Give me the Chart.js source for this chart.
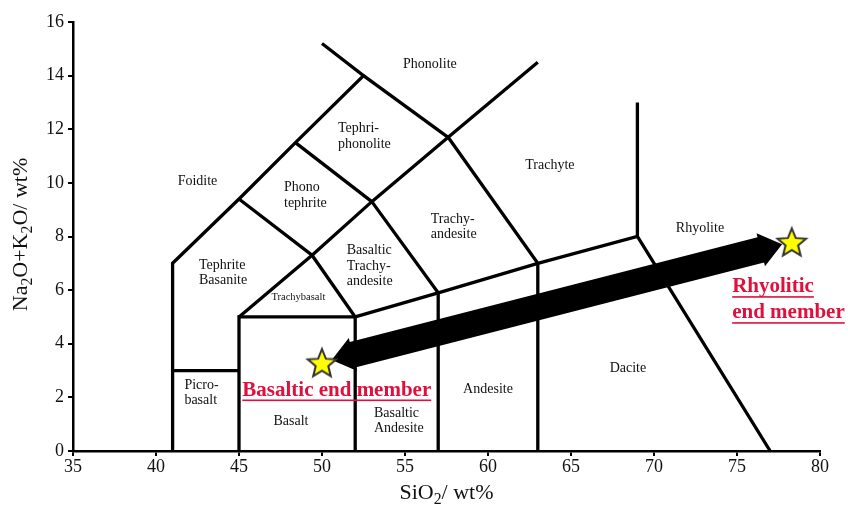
<!DOCTYPE html>
<html>
<head>
<meta charset="utf-8">
<script src="https://cdn.jsdelivr.net/npm/chart.js@4.4.1/dist/chart.umd.min.js"></script>
<style>
  html, body { margin: 0; padding: 0; background: #fff; }
  #wrap { width: 848px; height: 507px; }
</style>
</head>
<body>
<div id="wrap"><canvas id="tas"></canvas></div>
<script>
// TAS boundary polylines, [SiO2, Na2O+K2O]
const foiditeEdge = [[41, 0], [41, 7], [45, 9.4], [48.4, 11.5], [52.5, 14], [50, 15.2]];
const picroTop = [[41, 3], [45, 3]];
const basaltBox = [[45, 0], [45, 5], [52, 5], [52, 0]];
const alkalineEdge = [[45, 5], [49.4, 7.3], [53, 9.3], [57.6, 11.7], [63, 14.5]];
const subalkalineEdge = [[52, 5], [57, 5.9], [63, 7], [69, 8], [77, 0]];
const rhyoliteEdge = [[69, 8], [69, 13]];
const andesiteEdge = [[57, 0], [57, 5.9], [53, 9.3]];
const daciteEdge = [[63, 0], [63, 7], [57.6, 11.7]];
const tephriteEdge = [[52, 5], [49.4, 7.3], [45, 9.4]];
const phonotephriteEdge = [[48.4, 11.5], [53, 9.3]];
const phonoliteEdge = [[52.5, 14], [57.6, 11.7]];

const boundaries = [foiditeEdge, picroTop, basaltBox, alkalineEdge, subalkalineEdge, rhyoliteEdge,
  andesiteEdge, daciteEdge, tephriteEdge, phonotephriteEdge, phonoliteEdge];

// field names
const regionText = ["Phonolite", "Tephri-\nphonolite", "Trachyte", "Phono\ntephrite", "Foidite",
  "Trachy-\nandesite", "Basaltic\nTrachy-\nandesite", "Tephrite\nBasanite", "Trachybasalt",
  "Picro-\nbasalt", "Basalt", "Basaltic\nAndesite", "Andesite", "Dacite", "Rhyolite"];
const regionX = [56.5, 50.96, 63.73, 47.71, 42.5, 56.55, 51.49, 42.59, 48.58, 41.71, 48.13, 53.13, 60.0, 68.43, 72.77];
const regionY = [14.42, 11.74, 10.66, 9.54, 10.07, 8.36, 6.9, 6.64, 5.75, 2.17, 1.09, 1.12, 2.3, 3.08, 8.32];

// end members
const memberX = [50, 78.3];
const memberY = [3.3, 7.8];
const memberText = ["Basaltic end member", "Rhyolitic\nend member"];
const memberTextX = [50.89, 74.71];
const memberTextY = [2.27, 5.64];

const xTicks = [35, 40, 45, 50, 55, 60, 65, 70, 75, 80];
const yTicks = [0, 2, 4, 6, 8, 10, 12, 14, 16];

const SERIF = "'Liberation Serif', 'Times New Roman', serif";
const RED = "#e0103c";
const SMALL_LABELS = ["Trachybasalt"];

function makeStar(r) {
  const size = Math.ceil(r * 2 + 4);
  const c = document.createElement("canvas");
  c.width = size;
  c.height = size;
  const g = c.getContext("2d");
  g.beginPath();
  for (let i = 0; i < 10; i++) {
    const rad = i % 2 ? r * 0.44 : r;
    const a = -Math.PI / 2 + i * Math.PI / 5;
    const px = size / 2 + rad * Math.cos(a);
    const py = size / 2 + 1.5 + rad * Math.sin(a);
    if (i === 0) g.moveTo(px, py); else g.lineTo(px, py);
  }
  g.closePath();
  g.fillStyle = "#ffff00";
  g.fill();
  g.lineWidth = 2;
  g.strokeStyle = "#333";
  g.lineJoin = "miter";
  g.stroke();
  return c;
}

const starImg = makeStar(15);

// big double arrow between the end members, drawn just under the stars
const arrowPlugin = {
  id: "arrow",
  beforeDatasetDraw(chart, args) {
    if (args.index !== 0) return;
    const xs = chart.scales.x, ys = chart.scales.y;
    const x1 = xs.getPixelForValue(memberX[0]), y1 = ys.getPixelForValue(memberY[0]);
    const x2 = xs.getPixelForValue(memberX[1]), y2 = ys.getPixelForValue(memberY[1]);
    const len = Math.hypot(x2 - x1, y2 - y1);
    const ux = (x2 - x1) / len, uy = (y2 - y1) / len;
    const nx = -uy, ny = ux;
    const inset = 10, head = 22, hw = 17, sw = 13;
    const ax = x1 + ux * inset, ay = y1 + uy * inset;
    const bx = x2 - ux * inset, by = y2 - uy * inset;
    const pt = (px, py, along, side) => [px + ux * along + nx * side, py + uy * along + ny * side];
    const pts = [
      [ax, ay],
      pt(ax, ay, head, hw),
      pt(ax, ay, head, sw),
      pt(bx, by, -head, sw),
      pt(bx, by, -head, hw),
      [bx, by],
      pt(bx, by, -head, -hw),
      pt(bx, by, -head, -sw),
      pt(ax, ay, head, -sw),
      pt(ax, ay, head, -hw),
    ];
    const ctx = chart.ctx;
    ctx.save();
    ctx.beginPath();
    pts.forEach((p, i) => i ? ctx.lineTo(p[0], p[1]) : ctx.moveTo(p[0], p[1]));
    ctx.closePath();
    ctx.fillStyle = "#000";
    ctx.fill();
    ctx.restore();
  },
};

function drawText(ctx, text, x, y, lineH, align, underline) {
  const lines = text.split("\n");
  const top = y - (lines.length - 1) * lineH / 2;
  ctx.textAlign = align;
  ctx.textBaseline = "middle";
  lines.forEach((line, i) => {
    const ly = top + i * lineH;
    ctx.fillText(line, x, ly);
    if (underline) {
      const w = ctx.measureText(line).width;
      const lx = align === "center" ? x - w / 2 : x;
      ctx.fillRect(lx, ly + lineH * 0.36, w, 1.6);
    }
  });
}

const labelPlugin = {
  id: "labels",
  afterDatasetsDraw(chart) {
    const ctx = chart.ctx, xs = chart.scales.x, ys = chart.scales.y;
    ctx.save();
    ctx.fillStyle = "#111";
    regionText.forEach((t, i) => {
      const small = SMALL_LABELS.includes(t);
      ctx.font = (small ? "10.5px " : "14px ") + SERIF;
      const multi = t.includes("\n");
      drawText(ctx, t, xs.getPixelForValue(regionX[i]), ys.getPixelForValue(regionY[i]), 15.5,
        multi ? "left" : "center", false);
    });
    ctx.fillStyle = RED;
    ctx.font = "bold 21px " + SERIF;
    memberText.forEach((t, i) => {
      const multi = t.includes("\n");
      drawText(ctx, t, xs.getPixelForValue(memberTextX[i]), ys.getPixelForValue(memberTextY[i]), 26,
        multi ? "left" : "center", true);
    });
    ctx.restore();
  },
};

// axis titles with subscripts
function drawSub(ctx, parts, size) {
  const subSize = size * 0.72;
  let w = 0;
  parts.forEach(p => {
    ctx.font = (p.sub ? subSize : size) + "px " + SERIF;
    w += ctx.measureText(p.t).width;
  });
  let x = -w / 2;
  parts.forEach(p => {
    ctx.font = (p.sub ? subSize : size) + "px " + SERIF;
    ctx.fillText(p.t, x, p.sub ? size * 0.3 : 0);
    x += ctx.measureText(p.t).width;
  });
}

const titlePlugin = {
  id: "titles",
  afterDraw(chart) {
    const ctx = chart.ctx, area = chart.chartArea;
    ctx.save();
    ctx.fillStyle = "#111";
    ctx.textAlign = "left";
    ctx.textBaseline = "middle";
    ctx.translate((area.left + area.right) / 2, area.bottom + 42);
    drawSub(ctx, [{ t: "SiO" }, { t: "2", sub: true }, { t: "/ wt%" }], 22);
    ctx.restore();
    ctx.save();
    ctx.fillStyle = "#111";
    ctx.textAlign = "left";
    ctx.textBaseline = "middle";
    ctx.translate(21, (area.top + area.bottom) / 2 - 2);
    ctx.rotate(-Math.PI / 2);
    drawSub(ctx, [{ t: "Na" }, { t: "2", sub: true }, { t: "O+K" }, { t: "2", sub: true }, { t: "O/ wt%" }], 22);
    ctx.restore();
  },
};

const lineDatasets = boundaries.map(seg => ({
  type: "scatter",
  data: seg.map(p => ({ x: p[0], y: p[1] })),
  showLine: true,
  borderColor: "#000",
  borderWidth: 3.3,
  pointRadius: 0,
  borderJoinStyle: "miter",
  borderCapStyle: "butt",
}));

const starDataset = {
  type: "scatter",
  data: memberX.map((x, i) => ({ x, y: memberY[i] })),
  pointStyle: starImg,
  pointRadius: 15,
  clip: false,
};

const axisCommon = {
  grid: { display: true, drawOnChartArea: false, drawTicks: true, tickLength: 5, color: "#000", lineWidth: 2 },
  border: { display: true, color: "#000", width: 2.5 },
};

new Chart(document.getElementById("tas"), {
  type: "scatter",
  data: { datasets: [starDataset, ...lineDatasets] },
  options: {
    responsive: true,
    maintainAspectRatio: false,
    animation: false,
    layout: { padding: { top: 22, right: 28, left: 0, bottom: 0 } },
    plugins: { legend: { display: false }, tooltip: { enabled: false } },
    scales: {
      x: {
        ...axisCommon,
        min: 35,
        max: 80,
        afterBuildTicks: scale => { scale.ticks = xTicks.map(v => ({ value: v })); },
        afterFit: scale => { scale.height = 56; },
        ticks: { color: "#111", padding: 0, font: { family: SERIF, size: 18 } },
      },
      y: {
        ...axisCommon,
        min: 0,
        max: 16,
        afterBuildTicks: scale => { scale.ticks = yTicks.map(v => ({ value: v })); },
        afterFit: scale => { scale.width = 73; },
        ticks: { color: "#111", padding: 4, font: { family: SERIF, size: 18 } },
      },
    },
  },
  plugins: [arrowPlugin, labelPlugin, titlePlugin],
});
</script>
</body>
</html>
